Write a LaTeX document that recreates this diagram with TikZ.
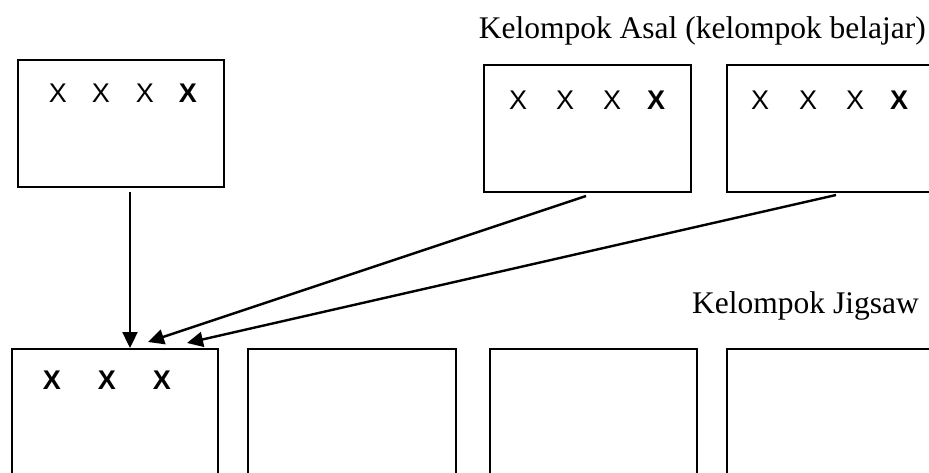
\documentclass[tikz,border=0pt]{standalone}
\usepackage{fontspec}
\setmainfont{Liberation Serif}
\newfontfamily\xfont{Liberation Sans}
\usetikzlibrary{arrows.meta}
\begin{document}
\begin{tikzpicture}[x=1pt,y=-1pt,
  grp/.style={draw=black,line width=1.6pt,minimum width=207pt,minimum height=127pt,inner sep=0pt,fill=white},
  mark x/.style={font=\xfont\fontsize{27}{27}\selectfont,inner sep=0pt},
  bold x/.style={font=\xfont\bfseries\fontsize{27}{27}\selectfont,inner sep=0pt},
  lbl/.style={font=\fontsize{31.5}{31.5}\selectfont,inner sep=0pt},
  conn/.style={line width=2.4pt,-{Triangle[length=16pt,width=15pt]}}]
\useasboundingbox (0,0) rectangle (929,473);
\clip (0,0) rectangle (929,473);
% labels
\node[lbl,anchor=east] (asal) at (926,31) {Kelompok Asal (kelompok belajar)};
\node[lbl,anchor=east] (jig) at (919,306) {Kelompok Jigsaw};
% top boxes
\node[grp,minimum width=206pt] (b1) at (121,123.5) {};
\node[grp] (b2) at (587.5,128.5) {};
\node[grp] (b3) at (830.5,128.5) {};
% bottom boxes
\node[grp,minimum width=206pt,minimum height=140pt] (ja) at (115,419) {};
\node[grp,minimum width=208pt,minimum height=140pt] (jb) at (352,419) {};
\node[grp,minimum height=140pt] (jc) at (593.5,419) {};
\node[grp,minimum height=140pt] (jd) at (830.5,419) {};
% X marks
\node[mark x] (x11) at (58,93) {X};
\node[mark x] (x12) at (101,93) {X};
\node[mark x] (x13) at (145,93) {X};
\node[bold x] (x14) at (188,93) {X};
\node[mark x] (x21) at (518,100) {X};
\node[mark x] (x22) at (565,100) {X};
\node[mark x] (x23) at (612,100) {X};
\node[bold x] (x24) at (656,100) {X};
\node[mark x] (x31) at (760,100) {X};
\node[mark x] (x32) at (808,100) {X};
\node[mark x] (x33) at (855,100) {X};
\node[bold x] (x34) at (899,100) {X};
\node[bold x] (xa1) at (52,380) {X};
\node[bold x] (xa2) at (107,380) {X};
\node[bold x] (xa3) at (162,380) {X};
% connector ends
\coordinate (s1) at (130,192);
\coordinate (t1) at (130,348);
\coordinate (s2) at (586,196);
\coordinate (t2) at (148,342);
\coordinate (s3) at (836,195);
\coordinate (t3) at (187,343);
\draw[conn] (s1) -- (t1);
\draw[conn] (s2) -- (t2);
\draw[conn] (s3) -- (t3);
\end{tikzpicture}
\end{document}
